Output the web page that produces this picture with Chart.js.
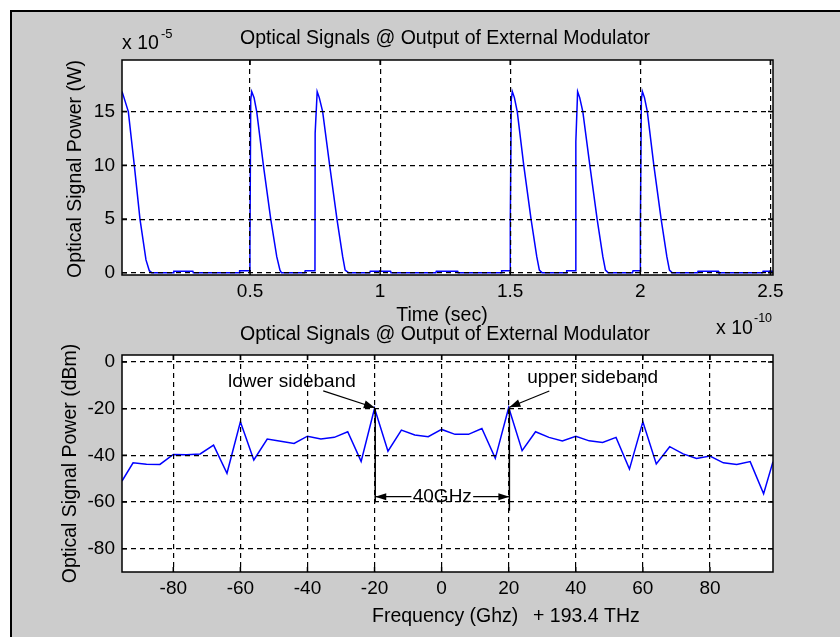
<!DOCTYPE html>
<html lang="en">
<head>
<meta charset="UTF-8">
<title>Optical Signals @ Output of External Modulator</title>
<script src="https://cdn.jsdelivr.net/npm/chart.js"></script>
<style>
  html, body { margin: 0; padding: 0; background: #fff; overflow: hidden; }
  body { width: 840px; height: 637px; position: relative; }
  #frame {
    position: absolute; left: 10px; top: 10px; right: -40px; bottom: -40px;
    background: #cccccc; border-left: 2px solid #000; border-top: 2px solid #000;
  }
  canvas { position: absolute; left: 0; top: 0; }
</style>
</head>
<body>
<div id="frame"></div>
<canvas id="timeChart" width="840" height="637"></canvas>
<canvas id="freqChart" width="840" height="637"></canvas>
<script>
// upper plot: time in units of 1e-10 s, power in units of 1e-5 W
const timeValues = [
  0.0078, 0.0154, 0.0321, 0.0551, 0.0769, 0.1, 0.1128, 0.1218,
  0.205, 0.207, 0.28, 0.282,
  0.458, 0.46, 0.499,
  0.4995, 0.5026, 0.5064, 0.5154, 0.5256, 0.5513, 0.5795, 0.6026, 0.615, 0.6205,
  0.71, 0.712, 0.7495,
  0.7502, 0.758, 0.766, 0.779, 0.806, 0.834, 0.856, 0.8654, 0.8782,
  0.96, 0.962, 1.04, 1.042,
  1.214, 1.216, 1.298, 1.3,
  1.465, 1.467, 1.4995,
  1.5002, 1.504, 1.508, 1.516, 1.527, 1.552, 1.58, 1.602, 1.612, 1.622,
  1.715, 1.717, 1.7515,
  1.7522, 1.759, 1.767, 1.779, 1.806, 1.834, 1.856, 1.866, 1.876,
  1.97, 1.972, 1.9995,
  2.0002, 2.004, 2.008, 2.016, 2.027, 2.052, 2.08, 2.102, 2.112, 2.122,
  2.22, 2.222, 2.3, 2.302,
  2.47, 2.472, 2.51
];
const powerValues = [
  16.86, 16.3, 15.0, 10.0, 5.0, 1.2, 0.2, 0.02,
  0.02, 0.16, 0.16, 0.02,
  0.02, 0.19, 0.19,
  2.4, 16.1, 16.86, 16.3, 15.0, 10.0, 5.0, 1.5, 0.25, 0.02,
  0.02, 0.19, 0.19,
  13.0, 16.86, 16.3, 15.0, 10.0, 5.0, 1.5, 0.25, 0.02,
  0.02, 0.16, 0.16, 0.02,
  0.02, 0.16, 0.16, 0.02,
  0.02, 0.19, 0.19,
  4.6, 16.1, 16.86, 16.3, 15.0, 10.0, 5.0, 1.5, 0.25, 0.02,
  0.02, 0.19, 0.19,
  12.2, 16.86, 16.3, 15.0, 10.0, 5.0, 1.5, 0.25, 0.02,
  0.02, 0.19, 0.19,
  4.3, 16.1, 16.86, 16.3, 15.0, 10.0, 5.0, 1.5, 0.25, 0.02,
  0.02, 0.16, 0.16, 0.02,
  0.02, 0.16, 0.16
];
const timeTicks = [0.5, 1, 1.5, 2, 2.5];
const powerTicks = [0, 5, 10, 15];

// lower plot: frequency offset (GHz) from 193.4 THz, power in dBm
const freqValues = [-95.3, -92, -88, -84, -80, -76, -72, -68, -64, -60, -56, -52, -48, -44, -40, -36,
  -32, -28, -24, -20, -16, -12, -8, -4, 0, 4, 8, 12, 16, 20, 24, 28, 32, 36, 40, 44, 48, 52, 56, 60,
  64, 68, 72, 76, 80, 84, 88, 92, 96, 98.8];
const dbmValues = [-51, -43.2, -43.8, -43.9, -39.6, -39.8, -39.4, -35.6, -47.7, -25.6, -42, -33, -34, -34.9, -31.8, -33,
  -32.3, -29.9, -42.6, -19.8, -38.2, -29.2, -31.3, -32, -28.9, -31, -31, -28.5, -41.3, -19.5, -38, -29.9, -32.3, -33.8, -31.8, -33.8, -34.5, -32.3, -45.9, -25.6,
  -43.7, -36.3, -39.4, -41.3, -40.3, -43.2, -43.9, -42.7, -56.5, -42.7];
const freqTicks = [-80, -60, -40, -20, 0, 20, 40, 60, 80];
const dbmTicks = [0, -20, -40, -60, -80];

const FONT = "'Liberation Sans', Arial, sans-serif";

function axis(min, max, ticks, size, isX) {
  return {
    type: 'linear', min: min, max: max,
    afterBuildTicks: s => { s.ticks = ticks.map(v => ({ value: v })); },
    afterFit: s => { if (isX) s.height = size; else s.width = size; },
    grid: { color: '#000', lineWidth: 1.2, drawTicks: false, z: 1 },
    border: { display: false, dash: [5, 4] },
    ticks: {
      color: '#000', padding: isX ? 5 : 7, autoSkip: false, maxRotation: 0,
      font: { family: FONT, size: 19 },
      callback: v => String(v)
    }
  };
}

function txt(ctx, s, x, y, size, align, rot) {
  ctx.save();
  ctx.font = size + 'px ' + FONT;
  ctx.fillStyle = '#000';
  ctx.textAlign = align || 'left';
  ctx.textBaseline = 'alphabetic';
  ctx.translate(x, y);
  if (rot) ctx.rotate(rot);
  ctx.fillText(s, 0, 0);
  ctx.restore();
}

function arrow(ctx, x1, y1, x2, y2, len, half) {
  const a = Math.atan2(y2 - y1, x2 - x1);
  ctx.save();
  ctx.strokeStyle = '#000';
  ctx.fillStyle = '#000';
  ctx.lineWidth = 1.2;
  ctx.beginPath();
  ctx.moveTo(x1, y1);
  ctx.lineTo(x2, y2);
  ctx.stroke();
  ctx.beginPath();
  ctx.moveTo(x2, y2);
  ctx.lineTo(x2 - len * Math.cos(a) + half * Math.sin(a), y2 - len * Math.sin(a) - half * Math.cos(a));
  ctx.lineTo(x2 - len * Math.cos(a) - half * Math.sin(a), y2 - len * Math.sin(a) + half * Math.cos(a));
  ctx.closePath();
  ctx.fill();
  ctx.restore();
}

// white plot area, black box, inward ticks, then chart specific texts
function matlabAxes(extra) {
  return {
    id: 'matlabAxes',
    beforeDraw(chart) {
      const a = chart.chartArea;
      chart.ctx.save();
      chart.ctx.fillStyle = '#fff';
      chart.ctx.fillRect(a.left, a.top, a.width, a.height);
      chart.ctx.restore();
    },
    afterDraw(chart) {
      const { ctx, chartArea: a, scales } = chart;
      const tl = 5;
      ctx.save();
      ctx.strokeStyle = '#000';
      ctx.lineWidth = 1.5;
      ctx.strokeRect(a.left, a.top, a.width, a.height);
      ctx.beginPath();
      scales.x.ticks.forEach(t => {
        const x = scales.x.getPixelForValue(t.value);
        ctx.moveTo(x, a.bottom); ctx.lineTo(x, a.bottom - tl);
        ctx.moveTo(x, a.top); ctx.lineTo(x, a.top + tl);
      });
      scales.y.ticks.forEach(t => {
        const y = scales.y.getPixelForValue(t.value);
        ctx.moveTo(a.left, y); ctx.lineTo(a.left + tl, y);
        ctx.moveTo(a.right, y); ctx.lineTo(a.right - tl, y);
      });
      ctx.stroke();
      ctx.restore();
      extra(ctx, chart);
    }
  };
}

function lineSet(xs, ys) {
  return {
    data: xs.map((x, i) => ({ x: x, y: ys[i] })),
    showLine: true, borderColor: '#0000ff', borderWidth: 1.5,
    pointRadius: 0, tension: 0
  };
}

const baseOptions = (padding, xAxis, yAxis) => ({
  responsive: false,
  animation: false,
  layout: { padding: padding },
  plugins: { legend: { display: false }, tooltip: { enabled: false } },
  scales: { x: xAxis, y: yAxis }
});

new Chart(document.getElementById('timeChart'), {
  type: 'scatter',
  data: { datasets: [lineSet(timeValues, powerValues)] },
  options: baseOptions({ left: 72, right: 67, top: 60, bottom: 322 },
    axis(0.0078, 2.51, timeTicks, 40, true),
    axis(-0.2, 19.8, powerTicks, 50, false)),
  plugins: [matlabAxes((ctx) => {
    txt(ctx, 'Optical Signals @ Output of External Modulator', 445, 44, 19.5, 'center');
    txt(ctx, 'x 10', 122, 49, 19.5);
    txt(ctx, '-5', 161, 38, 13);
    txt(ctx, 'Time (sec)', 442, 321, 19.5, 'center');
    txt(ctx, 'x 10', 716, 334, 19.5);
    txt(ctx, '-10', 754, 322, 12.5);
    txt(ctx, 'Optical Signal Power (W)', 80.5, 169, 19.5, 'center', -Math.PI / 2);
  })]
});

new Chart(document.getElementById('freqChart'), {
  type: 'scatter',
  data: { datasets: [lineSet(freqValues, dbmValues)] },
  options: baseOptions({ left: 72, right: 67, top: 355, bottom: 25 },
    axis(-95.3, 98.8, freqTicks, 40, true),
    axis(-90, 3, dbmTicks, 50, false)),
  plugins: [matlabAxes((ctx, chart) => {
    const sx = v => chart.scales.x.getPixelForValue(v);
    const sy = v => chart.scales.y.getPixelForValue(v);
    txt(ctx, 'Optical Signals @ Output of External Modulator', 445, 340, 19.5, 'center');
    txt(ctx, 'Frequency (Ghz)', 372, 622, 19.5);
    txt(ctx, '+ 193.4 THz', 533, 622, 19.5);
    txt(ctx, 'Optical Signal Power (dBm)', 76, 463.5, 19.5, 'center', -Math.PI / 2);

    // sideband annotations
    txt(ctx, 'lower sideband', sx(-63.7), sy(-10.8), 19);
    arrow(ctx, sx(-35.3), sy(-12.4), sx(-19.9), sy(-19.6), 11, 4);
    txt(ctx, 'upper sideband', sx(25.5), sy(-9.1), 19);
    arrow(ctx, sx(32.1), sy(-12.4), sx(20.2), sy(-19.4), 11, 4);

    ctx.save();
    ctx.strokeStyle = '#000';
    ctx.lineWidth = 1.5;
    ctx.beginPath();
    ctx.moveTo(sx(-19.8), sy(-19.8)); ctx.lineTo(sx(-19.8), sy(-60.1));
    ctx.moveTo(sx(20.2), sy(-19.5)); ctx.lineTo(sx(20.2), sy(-63.8));
    ctx.stroke();
    ctx.restore();

    arrow(ctx, sx(-9.0), sy(-57.7), sx(-19.8), sy(-57.7), 11, 3.5);
    arrow(ctx, sx(9.4), sy(-57.7), sx(20.2), sy(-57.7), 11, 3.5);
    txt(ctx, '40GHz', sx(0.2), sy(-59.8), 19, 'center');
  })]
});
</script>
</body>
</html>
